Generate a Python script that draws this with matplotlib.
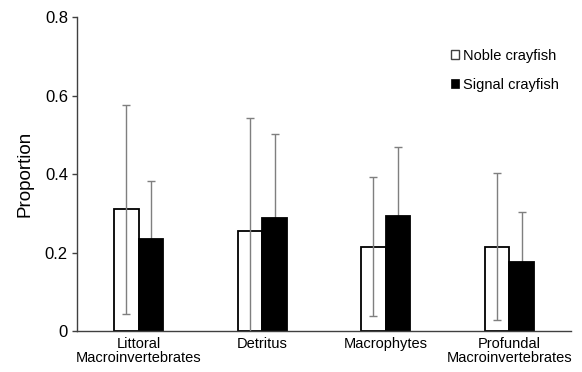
import numpy as np
import matplotlib.pyplot as plt

plt.rcParams['font.family'] = ['Liberation Sans', 'DejaVu Sans']

kategorie = ['Littoral\nMacroinvertebrates', 'Detritus', 'Macrophytes', 'Profundal\nMacroinvertebrates']
noble = [0.31, 0.255, 0.215, 0.215]
noble_err = [0.266, 0.288, 0.177, 0.188]
signal = [0.234, 0.287, 0.293, 0.176]
signal_err = [0.148, 0.215, 0.175, 0.128]

x = np.arange(len(kategorie))
w = 0.2

fig = plt.figure(figsize=(5.82, 3.72), dpi=100)
ax = fig.add_axes([0.1323, 0.1102, 0.8487, 0.8438])

b1 = ax.bar(x - w / 2, noble, w, color='white', edgecolor='black', linewidth=1.3,
            label='Noble crayfish', zorder=2)
b2 = ax.bar(x + w / 2, signal, w, color='black', edgecolor='black', linewidth=1.3,
            label='Signal crayfish', zorder=2)
ax.errorbar(x - w / 2, noble, yerr=noble_err, fmt='none', ecolor='#7f7f7f',
            elinewidth=1, capsize=3, capthick=1, zorder=3)
# tylko gorny slupek bledu, dolny chowa sie pod czarnym slupkiem
ax.errorbar(x + w / 2, signal, yerr=[np.zeros(len(signal)), signal_err], fmt='none',
            ecolor='#7f7f7f', elinewidth=1, capsize=3, capthick=1, zorder=1)

ax.set_xlim(-0.5, 3.5)
ax.set_ylim(0, 0.8)
ax.set_yticks([0, 0.2, 0.4, 0.6, 0.8])
ax.set_yticklabels(['0', '0.2', '0.4', '0.6', '0.8'])
ax.set_xticks(x)
ax.set_xticklabels(kategorie, fontsize=10.5, linespacing=1.05)
ax.tick_params(axis='y', length=3.5, width=1, color='#404040', labelsize=12, pad=3)
ax.tick_params(axis='x', length=0, pad=4)
ax.set_ylabel('Proportion', fontsize=13.5, labelpad=8)

for s in ['top', 'right']:
    ax.spines[s].set_visible(False)
for s in ['left', 'bottom']:
    ax.spines[s].set_color('#404040')
    ax.spines[s].set_linewidth(1)

leg = ax.legend(frameon=False, fontsize=10.5, loc='upper left', bbox_to_anchor=(0.745, 0.918),
                handlelength=0.55, handleheight=0.55, handletextpad=0.3, labelspacing=1.05,
                borderaxespad=0)
leg.legend_handles[0].set_edgecolor('#404040')
leg.legend_handles[0].set_linewidth(1)
leg.legend_handles[1].set_linewidth(0.5)

fig.savefig('out.png', dpi=100)
